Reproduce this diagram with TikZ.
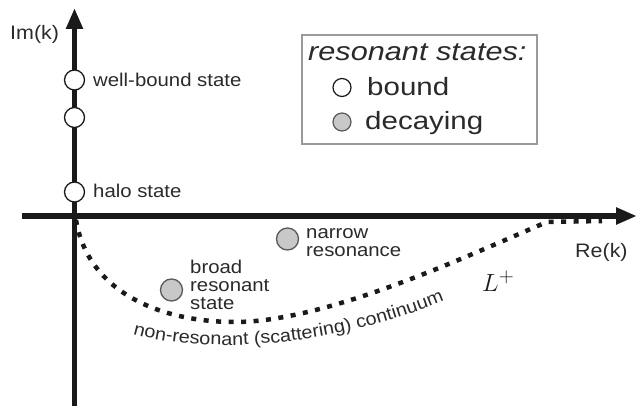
\documentclass[tikz,border=0pt]{standalone}
\usepackage{fontspec}
\setmainfont{Liberation Sans}
\newfontfamily\lblfont{Liberation Sans}[FakeStretch=1.1]
\newfontfamily\legfont{Liberation Sans}[FakeStretch=1.18]
\usetikzlibrary{arrows.meta,decorations.text}
\definecolor{ink}{HTML}{1A1A1A}
\definecolor{txt}{HTML}{2A2A2A}
\definecolor{dotgray}{HTML}{C8C8C8}
\definecolor{boxgray}{HTML}{9A9A9A}
\tikzset{
  axis/.style={line width=5.5pt, draw=ink, -{Triangle[length=21pt,width=16pt]}},
  axisplain/.style={line width=5.5pt, draw=ink},
  boundpt/.style={circle, draw=ink, line width=1.3pt, fill=white, minimum size=20pt, inner sep=0pt},
  decaypt/.style={circle, draw=black!65, line width=1.3pt, fill=dotgray, minimum size=22pt, inner sep=0pt},
  legbound/.style={circle, draw=ink, line width=1.2pt, fill=white, minimum size=18pt, inner sep=0pt},
  legdecay/.style={circle, draw=black!65, line width=1.2pt, fill=dotgray, minimum size=18pt, inner sep=0pt},
  lbl/.style={text=txt, inner sep=0pt, font=\lblfont\fontsize{18.5}{18}\selectfont, align=left},
  axlbl/.style={text=txt, inner sep=0pt, font=\lblfont\fontsize{19.5}{20}\selectfont},
  legtxt/.style={text=txt, inner sep=0pt, font=\legfont\fontsize{25}{28}\selectfont},
  contour/.style={line width=4.5pt, draw=ink, dash pattern=on 5pt off 7.5pt},
}
\begin{document}
\begin{tikzpicture}[x=1pt,y=-1pt]
\useasboundingbox (0,0) rectangle (638,406);
% axes
\coordinate (hl) at (22,216);
\coordinate (hr) at (637,216);
\coordinate (vb) at (74.5,406);
\coordinate (vt) at (74.5,8);
\draw[axisplain] (hl) -- (74.5,216);
\draw[axis] (74.5,216) -- (hr);
\draw[axis] (vb) -- (vt);
\node[axlbl, anchor=base west] (imk) at (10,40) {Im(k)};
\node[axlbl, anchor=base west] (rek) at (575,258) {Re(k)};
% bound states on imaginary axis
\node[boundpt] (b1) at (74.5,80) {};
\node[boundpt] (b2) at (74.5,117.5) {};
\node[boundpt] (b3) at (74.5,192) {};
\node[lbl, anchor=west] (wb) at (93,80) {well-bound state};
\node[lbl, anchor=west] (halo) at (93,191) {halo state};
% contour L+
\coordinate (o) at (76,220);
\coordinate (m) at (235,322);
\coordinate (j) at (547,222);
\coordinate (e) at (602,221);
\draw[contour] (o) .. controls (88,292) and (160,322) .. (m)
  .. controls (330,322) and (480,250) .. (j) -- (e);
\path[decorate, decoration={text along path, text align=left,
  text={|\color{txt}\lblfont\fontsize{18}{18}\selectfont|non-resonant (scattering) continuum}}]
  (133,334) .. controls (200,353) and (330,352) .. (460,294);
\node[anchor=base west, inner sep=0pt, text=ink, font=\fontsize{30}{30}\selectfont] (lp) at (482,292) {$L^{+}$};
% resonances
\node[decaypt] (nr) at (287.5,239) {};
\node[lbl, anchor=base west] (nrl) at (306,257) {narrow\\resonance};
\node[decaypt] (br) at (171.5,290) {};
\node[lbl, anchor=base west] (brl) at (190,310) {broad\\resonant\\state};
% legend
\node[draw=boxgray, line width=1.6pt, minimum width=235pt, minimum height=109pt, anchor=north west, inner sep=0pt] (leg) at (301,34) {};
\node[legtxt, anchor=base west, font=\legfont\itshape\fontsize{26}{28}\selectfont] (legt) at (308,61) {resonant states:};
\node[legbound] (lb) at (342,87.5) {};
\node[legtxt, anchor=base west] (lbt) at (367,96) {bound};
\node[legdecay] (ld) at (342,122) {};
\node[legtxt, anchor=base west] (ldt) at (365,130) {decaying};
\end{tikzpicture}
\end{document}
